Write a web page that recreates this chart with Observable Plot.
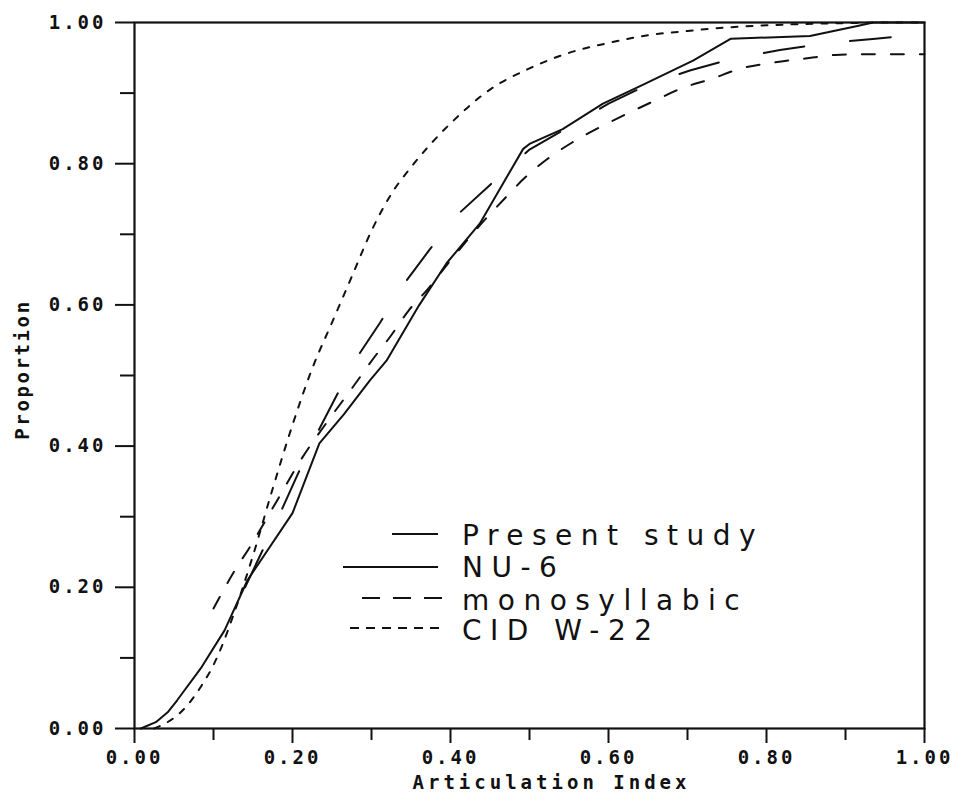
<!DOCTYPE html>
<html><head><meta charset="utf-8">
<script src="https://cdn.jsdelivr.net/npm/d3@7"></script>
<script src="https://cdn.jsdelivr.net/npm/@observablehq/plot@0.6"></script>
<style>
html,body{margin:0;padding:0;background:#fff;}
#wrap{position:relative;width:959px;height:795px;overflow:hidden;}
#wrap svg{position:absolute;left:0;top:0;}
g[aria-label="y-axis tick label"] text, g[aria-label="x-axis tick label"] text {letter-spacing:3px;font-weight:bold;}
</style></head><body><div id="wrap"></div>
<script>
const majorTicks = [0, 0.2, 0.4, 0.6, 0.8, 1.0];
const minorTicks = [0.1, 0.3, 0.5, 0.7, 0.9];

const seriesNames = ["Present study", "NU-6", "monosyllabic", "CID W-22"];
const xTitle = "Articulation Index";
const yTitle = "Proportion";

const presentX = [0.14, 0.186, 0.207, 0.231, 0.256, 0.283, 0.311, 0.342, 0.374, 0.412, 0.452, 0.5, 0.55, 0.6, 0.65, 0.703, 0.758, 0.817, 0.877, 0.938, 1.0];
const presentY = [0.2, 0.309, 0.361, 0.418, 0.472, 0.528, 0.575, 0.631, 0.679, 0.731, 0.772, 0.82, 0.852, 0.885, 0.912, 0.932, 0.949, 0.961, 0.971, 0.977, 0.984];

const nu6X = [0.008, 0.027, 0.042, 0.054, 0.085, 0.114, 0.143, 0.2, 0.234, 0.265, 0.298, 0.319, 0.36, 0.395, 0.437, 0.492, 0.5, 0.542, 0.593, 0.64, 0.707, 0.755, 0.855, 0.915, 0.935, 1.0];
const nu6Y = [0, 0.009, 0.023, 0.04, 0.087, 0.139, 0.21, 0.305, 0.404, 0.445, 0.493, 0.521, 0.599, 0.659, 0.715, 0.821, 0.828, 0.849, 0.885, 0.91, 0.946, 0.977, 0.981, 0.995, 1.0, 1.0];

const monoX = [0.1, 0.127, 0.146, 0.18, 0.212, 0.245, 0.276, 0.301, 0.325, 0.347, 0.371, 0.4, 0.443, 0.468, 0.494, 0.523, 0.554, 0.588, 0.622, 0.658, 0.693, 0.73, 0.768, 0.807, 0.849, 0.887, 0.925, 0.967, 1.0];
const monoY = [0.17, 0.224, 0.257, 0.322, 0.383, 0.436, 0.483, 0.522, 0.557, 0.592, 0.622, 0.663, 0.72, 0.75, 0.78, 0.807, 0.83, 0.851, 0.87, 0.889, 0.907, 0.92, 0.935, 0.943, 0.949, 0.954, 0.955, 0.955, 0.955];

const cidX = [0.025, 0.035, 0.05, 0.07, 0.085, 0.1, 0.11, 0.125, 0.15, 0.175, 0.2, 0.225, 0.25, 0.275, 0.3, 0.325, 0.35, 0.375, 0.4, 0.45, 0.5, 0.55, 0.6, 0.65, 0.7, 0.75, 0.8, 0.85, 0.9, 0.95, 1.0];
const cidY = [0, 0.005, 0.015, 0.037, 0.061, 0.09, 0.115, 0.16, 0.245, 0.34, 0.43, 0.51, 0.575, 0.64, 0.705, 0.757, 0.795, 0.828, 0.857, 0.905, 0.935, 0.957, 0.971, 0.982, 0.988, 0.993, 0.996, 0.998, 0.999, 1.0, 1.0];

const toRows = (xs, ys) => xs.map((x, i) => ({x, y: ys[i]}));
const present = toRows(presentX, presentY);
const nu6 = toRows(nu6X, nu6Y);
const mono = toRows(monoX, monoY);
const cid = toRows(cidX, cidY);

const fmt = d3.format(".2f");

const chart = Plot.plot({
  width: 959, height: 795,
  marginLeft: 134, marginRight: 35, marginTop: 22, marginBottom: 67,
  x: {domain: [0, 1]},
  y: {domain: [0, 1]},
  style: {fontFamily: "'DejaVu Sans Mono', monospace", fontSize: "18px", color: "#111", background: "#fff"},
  marks: [
    Plot.axisY(minorTicks, {tickSize: 14, strokeWidth: 2, tickFormat: () => "", label: null}),
    Plot.axisY(majorTicks, {tickSize: 19, tickPadding: 9, strokeWidth: 2, tickFormat: fmt, label: null, fontSize: 19}),
    Plot.axisX(minorTicks, {tickSize: 12, strokeWidth: 2, tickFormat: () => "", label: null}),
    Plot.axisX(majorTicks, {tickSize: 15, tickPadding: 7, strokeWidth: 2, tickFormat: fmt, label: null, fontSize: 19}),
    Plot.frame({strokeWidth: 2.2}),
    Plot.line(cid, {x: "x", y: "y", curve: "monotone-x", strokeWidth: 2, strokeDasharray: "6,9"}),
    Plot.line(mono, {x: "x", y: "y", curve: "monotone-x", strokeWidth: 2, strokeDasharray: "13,16"}),
    Plot.line(present, {x: "x", y: "y", curve: "linear", strokeWidth: 2, strokeDasharray: "41,46"}),
    Plot.line(nu6, {x: "x", y: "y", curve: "linear", strokeWidth: 2}),
    Plot.text([xTitle], {text: d => d, frameAnchor: "bottom", textAnchor: "middle", lineAnchor: "middle", dy: 54, dx: 22, fontSize: 19, fontWeight: "bold"}),
    Plot.text([yTitle], {text: d => d, frameAnchor: "left", textAnchor: "middle", lineAnchor: "middle", rotate: -90, dx: -112, dy: -6, fontSize: 19, fontWeight: "bold"})
  ]
});
d3.select(chart).selectAll("text").each(function () {
  const t = this.textContent;
  if (t === xTitle) d3.select(this).style("letter-spacing", "4px");
  if (t === yTitle) d3.select(this).style("letter-spacing", "2.6px");
});
const wrap = document.getElementById("wrap");
wrap.appendChild(chart);

// legend overlay
const legendStyles = [
  {dash: "46,60", x1: 392, x2: 438},
  {dash: null, x1: 343, x2: 438},
  {dash: "18,13", x1: 362, x2: 442},
  {dash: "9,7", x1: 350, x2: 440}
];
const rowY = [534, 567, 598, 628];
const baseY = [545, 577, 610, 640];
const leg = d3.create("svg").attr("width", 959).attr("height", 795)
  .style("pointer-events", "none");
const g = leg.append("g").attr("fill", "#111").attr("stroke", "#111");
seriesNames.forEach((name, i) => {
  const s = legendStyles[i];
  g.append("line").attr("x1", s.x1).attr("x2", s.x2).attr("y1", rowY[i]).attr("y2", rowY[i])
    .attr("stroke-width", 2).attr("stroke-dasharray", s.dash);
  g.append("text").attr("x", 462).attr("y", baseY[i]).attr("stroke", "none")
    .style("font-family", "'DejaVu Sans', sans-serif").style("font-size", "28px")
    .style("letter-spacing", "8.5px").text(name);
});
wrap.appendChild(leg.node());
</script>
</body></html>
